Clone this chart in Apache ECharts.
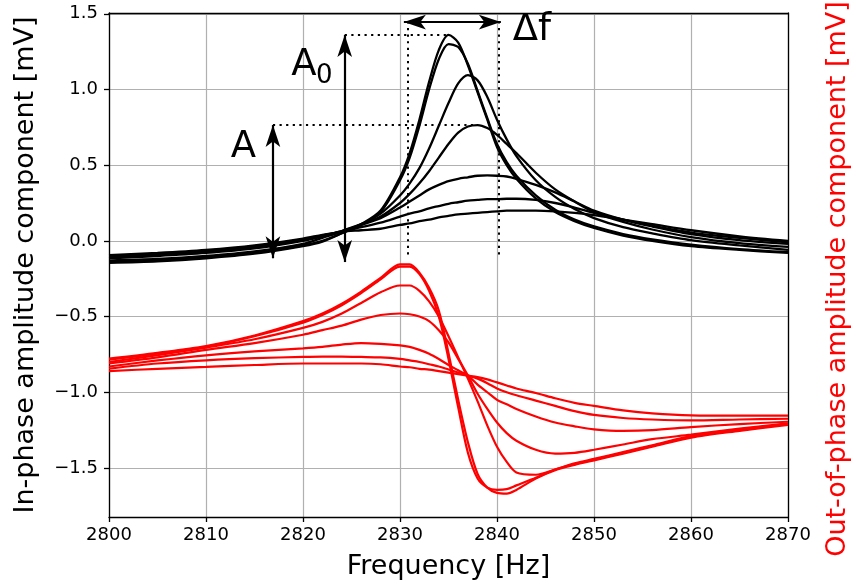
<!DOCTYPE html>
<html><head><meta charset="utf-8">
<script src="https://cdn.jsdelivr.net/npm/echarts@6/dist/echarts.min.js"></script>
<style>html,body{margin:0;padding:0;background:#fff}#c{width:856px;height:588px}</style>
</head><body><div id="c"></div><script>
// Frequency samples [Hz]
const freq = [2800, 2805, 2810, 2815, 2820, 2822, 2824, 2826, 2828, 2830, 2831, 2832, 2833, 2834, 2835, 2836, 2837, 2838, 2839, 2840, 2841, 2842, 2844, 2846, 2848, 2850, 2853, 2856, 2860, 2865, 2870];

// In-phase components [mV] (black)
const inPhase1 = [-0.145, -0.135, -0.115, -0.085, -0.035, -0.005, 0.05, 0.11, 0.20, 0.42, 0.58, 0.80, 1.05, 1.26, 1.36, 1.31, 1.16, 0.98, 0.80, 0.62, 0.50, 0.41, 0.28, 0.19, 0.13, 0.085, 0.035, 0.0, -0.035, -0.06, -0.08];
const inPhase2 = [-0.14, -0.13, -0.11, -0.08, -0.03, 0.0, 0.05, 0.105, 0.19, 0.40, 0.55, 0.76, 1.00, 1.20, 1.30, 1.28, 1.17, 0.99, 0.81, 0.64, 0.52, 0.43, 0.30, 0.205, 0.14, 0.095, 0.045, 0.01, -0.025, -0.055, -0.075];
const inPhase3 = [-0.13, -0.12, -0.10, -0.07, -0.02, 0.02, 0.06, 0.11, 0.18, 0.30, 0.38, 0.48, 0.61, 0.76, 0.91, 1.04, 1.095, 1.06, 0.95, 0.80, 0.67, 0.56, 0.40, 0.29, 0.21, 0.15, 0.09, 0.05, 0.005, -0.03, -0.06];
const inPhase4 = [-0.115, -0.10, -0.08, -0.05, 0.0, 0.03, 0.065, 0.11, 0.16, 0.25, 0.31, 0.38, 0.46, 0.55, 0.64, 0.715, 0.755, 0.765, 0.745, 0.70, 0.64, 0.58, 0.45, 0.34, 0.26, 0.19, 0.125, 0.075, 0.025, -0.015, -0.04];
const inPhase5 = [-0.105, -0.09, -0.07, -0.04, 0.005, 0.035, 0.065, 0.105, 0.15, 0.22, 0.26, 0.30, 0.34, 0.37, 0.395, 0.41, 0.42, 0.43, 0.432, 0.43, 0.425, 0.41, 0.37, 0.32, 0.26, 0.20, 0.14, 0.095, 0.045, 0.005, -0.02];
const inPhase6 = [-0.10, -0.085, -0.065, -0.035, 0.01, 0.035, 0.06, 0.09, 0.12, 0.16, 0.18, 0.195, 0.215, 0.23, 0.245, 0.255, 0.265, 0.27, 0.275, 0.275, 0.278, 0.278, 0.27, 0.25, 0.22, 0.185, 0.14, 0.10, 0.055, 0.02, -0.01];
const inPhase7 = [-0.095, -0.08, -0.06, -0.03, 0.015, 0.04, 0.06, 0.07, 0.08, 0.105, 0.115, 0.13, 0.14, 0.155, 0.165, 0.175, 0.18, 0.185, 0.19, 0.195, 0.20, 0.20, 0.20, 0.195, 0.185, 0.17, 0.14, 0.11, 0.07, 0.03, 0.0];

// Out-of-phase components [mV] (red)
const outPhase1 = [-0.778, -0.74, -0.695, -0.625, -0.53, -0.48, -0.415, -0.335, -0.245, -0.155, -0.155, -0.21, -0.31, -0.46, -0.74, -1.05, -1.33, -1.54, -1.63, -1.665, -1.67, -1.645, -1.57, -1.515, -1.48, -1.45, -1.405, -1.36, -1.30, -1.255, -1.215];
const outPhase2 = [-0.785, -0.745, -0.70, -0.63, -0.54, -0.49, -0.425, -0.345, -0.255, -0.17, -0.17, -0.22, -0.33, -0.50, -0.78, -1.10, -1.40, -1.57, -1.63, -1.645, -1.64, -1.615, -1.565, -1.51, -1.475, -1.445, -1.40, -1.355, -1.295, -1.25, -1.21];
const outPhase3 = [-0.80, -0.755, -0.705, -0.65, -0.575, -0.535, -0.48, -0.41, -0.34, -0.295, -0.295, -0.33, -0.40, -0.50, -0.63, -0.77, -0.91, -1.06, -1.22, -1.36, -1.46, -1.53, -1.545, -1.51, -1.47, -1.44, -1.395, -1.35, -1.29, -1.245, -1.21];
const outPhase4 = [-0.81, -0.77, -0.72, -0.675, -0.62, -0.59, -0.56, -0.52, -0.49, -0.48, -0.485, -0.50, -0.53, -0.59, -0.67, -0.78, -0.89, -1.01, -1.11, -1.20, -1.27, -1.32, -1.38, -1.405, -1.40, -1.38, -1.345, -1.31, -1.28, -1.24, -1.205];
const outPhase5 = [-0.83, -0.79, -0.756, -0.73, -0.71, -0.70, -0.685, -0.675, -0.68, -0.69, -0.70, -0.72, -0.745, -0.78, -0.82, -0.855, -0.89, -0.95, -1.00, -1.05, -1.08, -1.11, -1.16, -1.20, -1.225, -1.245, -1.255, -1.25, -1.23, -1.21, -1.195];
const outPhase6 = [-0.844, -0.81, -0.789, -0.775, -0.767, -0.765, -0.765, -0.767, -0.77, -0.78, -0.79, -0.80, -0.815, -0.83, -0.85, -0.87, -0.89, -0.91, -0.94, -0.975, -1.0, -1.02, -1.055, -1.09, -1.125, -1.15, -1.17, -1.18, -1.186, -1.18, -1.175];
const outPhase7 = [-0.86, -0.845, -0.833, -0.82, -0.81, -0.81, -0.81, -0.81, -0.815, -0.83, -0.835, -0.845, -0.85, -0.86, -0.87, -0.88, -0.89, -0.90, -0.915, -0.935, -0.955, -0.975, -1.005, -1.04, -1.07, -1.09, -1.12, -1.14, -1.153, -1.155, -1.155];

// Axis ticks
const yTicks = [-1.5, -1.0, -0.5, 0.0, 0.5, 1.0, 1.5];

// Annotation geometry (data coordinates)
const arrowA = [[2816.9, -0.115], [2816.9, 0.765]];
const arrowA0 = [[2824.3, -0.14], [2824.3, 1.36]];
const arrowDf = [[2830.4, 1.445], [2840.4, 1.445]];
const dotted = [
  [[2816.9, 0.765], [2837.8, 0.765]],
  [[2824.3, 1.36], [2834.9, 1.36]],
  [[2830.75, 1.45], [2830.75, -0.115]],
  [[2840.2, 1.45], [2840.2, -0.115]]
];
const labels = [
  {text: 'A', at: [2813.85, 0.62], size: 37},
  {text: 'A', at: [2820.1, 1.162], size: 37},
  {text: '0', at: [2822.2, 1.085], size: 26},
  {text: 'Δf', at: [2843.6, 1.393], size: 37}
];

const FONT = 'DejaVu Sans';
const chart = echarts.init(document.getElementById('c'), null, {renderer: 'canvas'});
const pairs = ys => freq.map((f, i) => [f, ys[i]]);
const fmt = v => (v < 0 ? '\u2212' : '') + Math.abs(v).toFixed(1);

const series = [];
[inPhase1, inPhase2, inPhase3, inPhase4, inPhase5, inPhase6, inPhase7].forEach(ys => series.push({
  type: 'line', data: pairs(ys), smooth: 0.3, showSymbol: false, symbol: 'none',
  lineStyle: {color: '#000', width: 2.3}, z: 3, silent: true
}));
[outPhase1, outPhase2, outPhase3, outPhase4, outPhase5, outPhase6, outPhase7].forEach(ys => series.push({
  type: 'line', data: pairs(ys), smooth: 0.3, showSymbol: false, symbol: 'none',
  lineStyle: {color: '#ff0000', width: 2.2}, z: 3, silent: true
}));
series[0].markLine = {
  silent: true, animation: false, symbol: ['none', 'none'], label: {show: false},
  lineStyle: {color: '#000', type: [2.2, 4.4], width: 2},
  emphasis: {disabled: true},
  data: dotted.map(s => [{coord: s[0]}, {coord: s[1]}])
};
series.push({
  type: 'line', data: [[2800, 0]], showSymbol: false, symbol: 'none', lineStyle: {opacity: 0}, silent: true,
  markLine: {
    silent: true, animation: false, symbol: ['arrow', 'arrow'], symbolSize: [11, 22], label: {show: false},
    lineStyle: {color: '#000', type: 'solid', width: 2.2},
    itemStyle: {color: '#000'},
    emphasis: {disabled: true},
    data: [arrowA, arrowA0, arrowDf].map(s => [{coord: s[0]}, {coord: s[1]}])
  }
});

chart.setOption({
  animation: false,
  backgroundColor: '#fff',
  textStyle: {fontFamily: FONT},
  grid: {left: 109, right: 68, top: 13, bottom: 71, containLabel: false},
  xAxis: [{
    type: 'value', min: 2800, max: 2870, interval: 10,
    name: 'Frequency [Hz]', nameLocation: 'middle', nameGap: 36,
    nameTextStyle: {fontFamily: FONT, fontSize: 27, color: '#000'},
    axisLine: {show: true, onZero: false, lineStyle: {color: '#000', width: 1.3}},
    axisTick: {show: true, inside: false, length: 5, lineStyle: {color: '#000', width: 1.3}},
    axisLabel: {fontFamily: FONT, fontSize: 18, color: '#000', margin: 9, formatter: v => String(v)},
    splitLine: {show: true, lineStyle: {color: '#b0b0b0', width: 1.2}}
  }, {
    type: 'value', position: 'top', min: 2800, max: 2870, interval: 10,
    axisLine: {show: true, onZero: false, lineStyle: {color: '#000', width: 1.3}},
    axisTick: {show: false}, axisLabel: {show: false}, splitLine: {show: false}
  }],
  yAxis: [{
    type: 'value', min: -1.824, max: 1.505,
    name: 'In-phase amplitude component [mV]', nameLocation: 'middle', nameGap: 70, nameRotate: 90,
    nameTextStyle: {fontFamily: FONT, fontSize: 27, color: '#000'},
    axisLine: {show: true, onZero: false, lineStyle: {color: '#000', width: 1.3}},
    axisTick: {show: true, inside: false, length: 5, customValues: yTicks, lineStyle: {color: '#000', width: 1.3}},
    axisLabel: {fontFamily: FONT, fontSize: 18, color: '#000', margin: 11, customValues: yTicks, formatter: fmt},
    splitLine: {show: true, lineStyle: {color: '#b0b0b0', width: 1.2}}
  }, {
    type: 'value', position: 'right', min: -1.824, max: 1.505,
    axisLine: {show: true, onZero: false, lineStyle: {color: '#000', width: 1.3}},
    axisTick: {show: false}, axisLabel: {show: false}, splitLine: {show: false}
  }],
  series: series
});

const graphics = labels.map(l => {
  const p = chart.convertToPixel({gridIndex: 0}, l.at);
  return {type: 'text', x: p[0], y: p[1], z: 10, silent: true,
    style: {text: l.text, font: l.size + 'px "' + FONT + '"', fill: '#000', align: 'center', verticalAlign: 'middle'}};
});
graphics.push({type: 'text', x: 838, y: 279, rotation: Math.PI / 2, z: 10, silent: true,
  style: {text: 'Out-of-phase amplitude component [mV]', font: '27px "' + FONT + '"', fill: '#ff0000', align: 'center', verticalAlign: 'middle'}});
chart.setOption({graphic: graphics});
</script></body></html>
